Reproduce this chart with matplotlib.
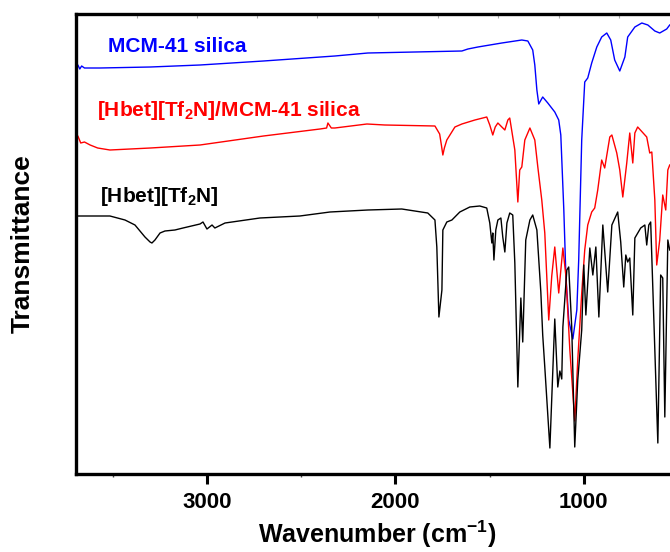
import matplotlib
matplotlib.use("Agg")
import matplotlib.pyplot as plt

plt.rcParams["font.family"] = ["Liberation Sans", "DejaVu Sans"]
plt.rcParams["font.weight"] = "bold"
plt.rcParams["axes.labelweight"] = "bold"
plt.rcParams["mathtext.fontset"] = "custom"
plt.rcParams["mathtext.bf"] = "Liberation Sans:bold"
plt.rcParams["mathtext.rm"] = "Liberation Sans:bold"
plt.rcParams["mathtext.default"] = "bf"

# FTIR spectra (wavenumber in cm-1, transmittance in arbitrary offset units)
wn_mcm = [3695, 3685, 3675, 3665, 3650, 3568, 3300, 3037, 2700, 2321,
          2146, 1647, 1615, 1562, 1435, 1329, 1297, 1271, 1260, 1249,
          1239, 1218, 1191, 1154, 1133, 1122, 1106, 1095, 1080, 1058,
          1037, 1027, 1011, 995, 979, 958, 931, 905, 878, 857,
          836, 809, 782, 767, 729, 692, 660, 623, 597, 560,
          544]
t_mcm = [407, 409, 405, 408, 406, 406, 407, 409, 413, 418,
         421, 423, 425, 427, 431, 434, 433, 424, 409, 384,
         370, 377, 371, 362, 354, 339, 264, 198, 154, 135,
         164, 214, 334, 392, 396, 411, 427, 437, 441, 434,
         414, 403, 417, 437, 447, 451, 449, 443, 441, 445,
         449]

wn_il_si = [3695, 3685, 3670, 3650, 3620, 3580, 3515, 3300, 3037, 2700,
            2400, 2365, 2358, 2340, 2321, 2151, 2056, 1790, 1765, 1755,
            1748, 1740, 1727, 1684, 1647, 1578, 1515, 1499, 1483, 1470,
            1456, 1435, 1419, 1403, 1393, 1366, 1350, 1340, 1329, 1313,
            1286, 1260, 1244, 1223, 1207, 1186, 1170, 1154, 1133, 1111,
            1095, 1074, 1048, 1032, 1011, 995, 979, 958, 942, 926,
            905, 889, 862, 851, 825, 809, 793, 772, 756, 740,
            729, 714, 666, 650, 639, 623, 613, 597, 581, 565,
            554, 544]
t_il_si = [334, 338, 331, 332, 329, 326, 324, 326, 329, 338,
           345, 346, 351, 346, 346, 350, 349, 348, 340, 328,
           319, 326, 334, 347, 350, 354, 357, 349, 339, 347,
           351, 347, 344, 354, 356, 324, 272, 304, 307, 334,
           346, 334, 307, 274, 241, 154, 198, 227, 181, 226,
           198, 124, 53, 114, 181, 224, 249, 262, 266, 284,
           314, 306, 337, 339, 321, 304, 277, 311, 341, 311,
           341, 347, 337, 321, 322, 274, 209, 234, 279, 264,
           304, 309]

wn_il = [3695, 3515, 3435, 3382, 3329, 3302, 3292, 3276, 3249, 3223,
         3170, 3127, 3037, 3021, 3000, 2973, 2958, 2904, 2719, 2507,
         2347, 2146, 1966, 1897, 1828, 1790, 1780, 1769, 1753, 1748,
         1727, 1700, 1658, 1605, 1552, 1515, 1499, 1488, 1483, 1477,
         1467, 1456, 1440, 1430, 1419, 1408, 1393, 1377, 1366, 1350,
         1334, 1324, 1308, 1286, 1271, 1249, 1228, 1218, 1207, 1180,
         1154, 1138, 1127, 1117, 1111, 1090, 1080, 1064, 1048, 1032,
         1011, 1000, 989, 968, 952, 936, 920, 899, 873, 851,
         820, 804, 788, 777, 767, 756, 740, 729, 698, 676,
         666, 655, 645, 607, 592, 581, 570, 554, 544]
t_il = [258, 258, 254, 249, 237, 232, 231, 234, 241, 243,
        244, 246, 250, 252, 245, 249, 246, 251, 256, 258,
        262, 264, 265, 263, 261, 254, 227, 157, 184, 244,
        252, 254, 262, 267, 268, 266, 251, 231, 241, 214,
        244, 254, 256, 237, 222, 251, 261, 259, 211, 87,
        176, 132, 234, 254, 259, 244, 182, 139, 107, 26,
        155, 87, 103, 95, 147, 204, 207, 147, 27, 94,
        144, 209, 159, 226, 199, 227, 157, 249, 182, 249,
        262, 232, 187, 219, 212, 216, 159, 236, 246, 249,
        229, 249, 252, 31, 199, 196, 57, 234, 224]

major_ticks = [3000, 2000, 1000]
minor_ticks = [3500, 2500, 1500]
top_ticks = [3371, 3053, 2735, 2416, 2093, 1775, 1456, 1133, 814]

fig = plt.figure(figsize=(6.7, 5.52), dpi=100)
ax = fig.add_axes([76 / 670, 78 / 552, 602 / 670, 460 / 552])

ax.plot(wn_mcm, t_mcm, color="#0000ff", lw=1.0)
ax.plot(wn_il_si, t_il_si, color="#ff0000", lw=1.0)
ax.plot(wn_il, t_il, color="black", lw=1.0)

ax.text(3525, 427, "MCM-41 silica", color="#0000ff", fontsize=15, va="center")
ax.text(3584, 363, r"[Hbet][Tf$_2$N]/MCM-41 silica", color="#ff0000",
        fontsize=15, va="center")
ax.text(3568, 277, r"[Hbet][Tf$_2$N]", color="black", fontsize=15, va="center")

ax.set_xlim(3695, 500)
ax.set_ylim(0, 460)
ax.set_yticks([])
ax.set_xticks(major_ticks)
ax.set_xticks(minor_ticks, minor=True)
ax.tick_params(axis="x", which="major", direction="out", length=7, width=2.2,
               labelsize=16, pad=6)
ax.tick_params(axis="x", which="minor", direction="out", length=2, width=1,
               color="#444444")
for spine in ax.spines.values():
    spine.set_linewidth(2.4)

top = ax.secondary_xaxis("top")
top.set_xticks(top_ticks, labels=[])
top.tick_params(direction="in", length=3, width=0.8, color="#aaaaaa")
top.spines["top"].set_visible(False)

ax.set_xlabel("Wavenumber (cm$^{-1}$)", fontsize=18, labelpad=4)
ax.set_ylabel("Transmittance", fontsize=19, labelpad=30)

fig.savefig("out.png", dpi=100)
